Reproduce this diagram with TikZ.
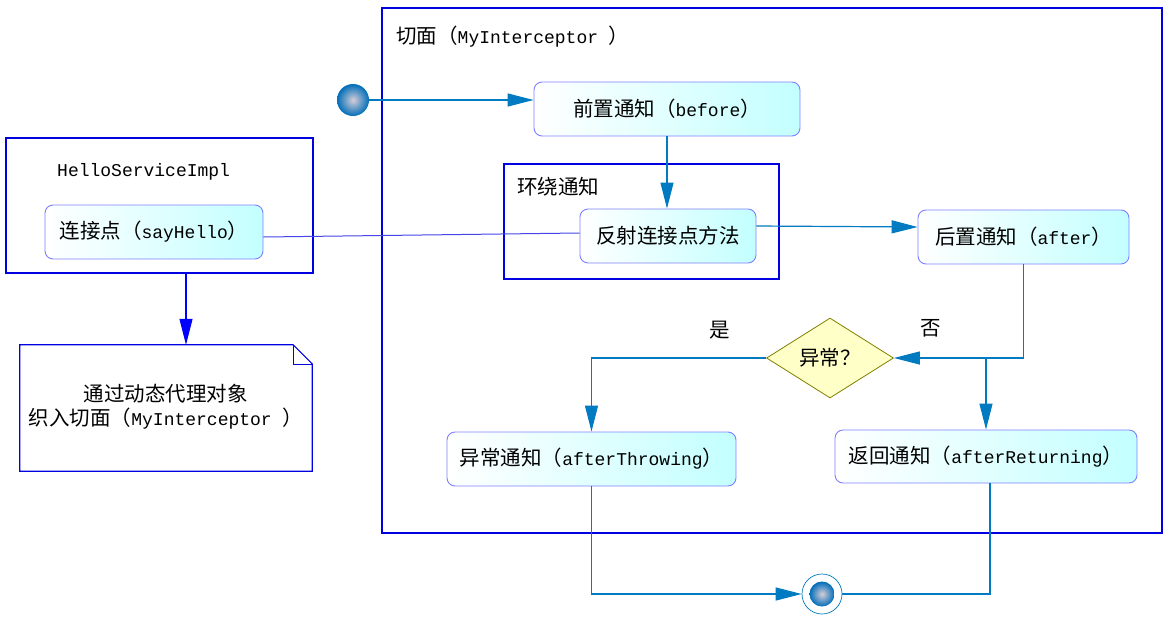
\documentclass[tikz,border=0pt]{standalone}
\usepackage{fontspec}
\setmainfont{Liberation Mono}
\newfontfamily\cjk{Noto Sans CJK SC}
\usetikzlibrary{arrows.meta,shapes.geometric}
\newcommand\zh[1]{{\cjk\fontsize{20.5}{24}\selectfont #1}}
\definecolor{frameblue}{RGB}{0,0,225}
\definecolor{flowblue}{RGB}{0,122,192}
\definecolor{actborder}{RGB}{128,128,255}
\definecolor{actfill}{RGB}{195,255,255}
\definecolor{decfill}{RGB}{255,255,200}
\definecolor{decborder}{RGB}{128,128,0}
\definecolor{linkblue}{RGB}{70,70,235}
\definecolor{ballout}{RGB}{0,110,185}
\definecolor{ballin}{RGB}{215,205,215}
\begin{document}
\begin{tikzpicture}[x=1pt,y=-1pt,
  every node/.style={font=\fontsize{18}{24}\selectfont, inner sep=0pt},
  frame/.style={draw=frameblue, line width=1.2pt},
  act/.style={draw=actborder, line width=0.9pt, rounded corners=8pt, left color=white, right color=actfill, minimum height=54pt, align=center},
  flow/.style={draw=flowblue, line width=1.2pt},
  tipflow/.style={-{Triangle[length=26pt,width=13pt]}},
  ballnode/.style={circle, inner color=ballin, outer color=ballout}
]
\useasboundingbox (0,0) rectangle (1171,619);
\fill[white] (0,0) rectangle (1171,619);

% frames
\node[frame, minimum width=780pt, minimum height=525pt] (aspect) at (772,270.5) {};
\node[anchor=west] (aspectlbl) at (396,37) {\zh{切面（}MyInterceptor \zh{）}};
\node[frame, minimum width=275pt, minimum height=115pt] (around) at (641.5,221.5) {};
\node[anchor=west] (aroundlbl) at (517,187) {\zh{环绕通知}};
\node[frame, minimum width=307pt, minimum height=135pt] (hello) at (159.5,205.5) {};
\node[anchor=west] (hellolbl) at (57,172) {HelloServiceImpl};

% activities
\node[act, minimum width=266pt] (before) at (667,109) {\zh{前置通知（}before\zh{）}};
\node[act, minimum width=176pt] (fanshe) at (668,236) {\zh{反射连接点方法}};
\node[act, minimum width=211pt] (houzhi) at (1023.5,237) {\zh{后置通知（}after\zh{）}};
\node[act, minimum width=289pt] (yichang) at (591.5,459) {\zh{异常通知（}afterThrowing\zh{）}};
\node[act, minimum width=302pt, minimum height=53pt] (fanhui) at (986,456.5) {\zh{返回通知（}afterReturning\zh{）}};
\node[act, minimum width=218pt] (lianjie) at (154,232) {\zh{连接点（}sayHello\zh{）}};

% decision
\node[diamond, draw=decborder, line width=0.8pt, fill=decfill, minimum width=127pt, minimum height=80pt, shape aspect=1.6] (dec) at (830,358) {\zh{异常？}};
\node (yes) at (720,330) {\zh{是}};
\node (no) at (931,328) {\zh{否}};

% start / end
\node[ballnode, minimum size=32pt] (start) at (353,100) {};
\node[circle, draw=flowblue, line width=0.7pt, minimum size=40pt] (final) at (822,594) {};
\node[ballnode, minimum size=25pt] (finaldot) at (final) {};

% note
\node[minimum width=292pt, minimum height=126pt] (note) at (166,408) {};
\draw[frameblue, line width=1.2pt] (note.south west) -- (note.north west) -- ([xshift=-19pt]note.north east) -- ([yshift=-19pt]note.north east) -- (note.south east) -- cycle;
\draw[frameblue, line width=0.6pt] ([xshift=-19pt]note.north east) |- ([yshift=-19pt]note.north east);
\node[align=center] (notetext) at (166,407) {\zh{通过动态代理对象}\\\zh{织入切面（}MyInterceptor \zh{）}};

% connectors
\draw[flow, tipflow] (start.east) -- (before.west |- start);
\draw[flow, tipflow] (before.south) -- (before.south |- fanshe.north);
\draw[linkblue, line width=1pt] ([yshift=-5pt]lianjie.east) -- ([yshift=3pt]fanshe.west);
\draw[flow, tipflow] ([yshift=10pt]fanshe.east) -- ([yshift=10pt]houzhi.west);
\draw[flow, tipflow] (houzhi.south) |- (dec.east);
\coordinate (branch) at (986,358);
\draw[flow, tipflow] (branch) -- (fanhui.north);
\draw[flow, tipflow] (dec.west) -| (yichang.north);
\draw[flow, tipflow] (yichang.south) |- (final.west);
\draw[flow] ([xshift=4pt]fanhui.south) |- (final.east);
\coordinate (hdown) at (186,273);
\draw[blue, line width=1.2pt, -{Triangle[length=26pt,width=13pt]}] (hdown) -- (hdown |- note.north);
\end{tikzpicture}
\end{document}
